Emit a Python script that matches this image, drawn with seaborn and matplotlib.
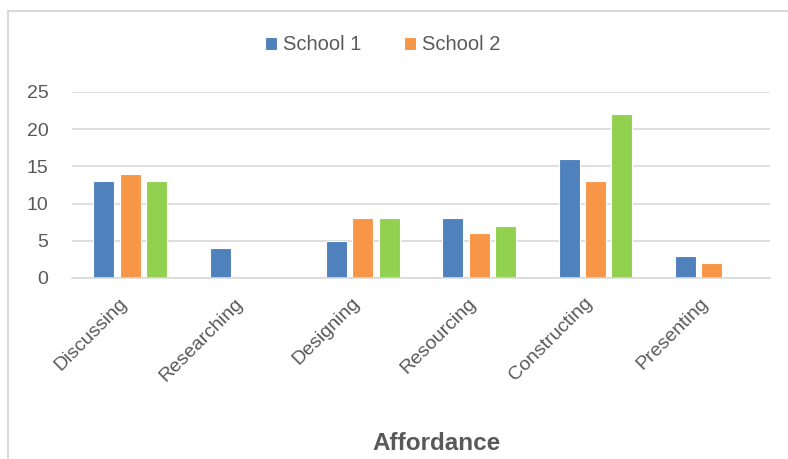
import pandas as pd
import matplotlib.pyplot as plt
import matplotlib.patches as mpatches
import seaborn as sns

# data
affordances = ["Discussing", "Researching", "Designing", "Resourcing", "Constructing", "Presenting"]
school1 = [13, 4, 5, 8, 16, 3]
school2 = [14, 0, 8, 6, 13, 2]
school3 = [13, 0, 8, 7, 22, 0]
schools = ["School 1", "School 2", "School 3"]
colors = ["#4F81BD", "#F79646", "#92D050"]

df = pd.DataFrame({
    "Affordance": affordances * 3,
    "School": [s for s in schools for _ in affordances],
    "Count": school1 + school2 + school3,
})

sns.set_style("white")
plt.rcParams["font.family"] = ["Liberation Sans", "DejaVu Sans"]

fig = plt.figure(figsize=(7.88, 4.59), dpi=100)
ax = fig.add_axes([72 / 788, 1 - 278 / 459, 698 / 788, 186 / 459])

sns.barplot(data=df, x="Affordance", y="Count", hue="School", hue_order=schools,
            palette=colors, order=affordances, width=0.68, gap=0.2, saturation=1,
            edgecolor="white", linewidth=0.8, ax=ax)

ax.set_ylim(0, 25)
ax.set_yticks([0, 5, 10, 15, 20, 25])
ax.yaxis.grid(True, color="#D9D9D9", linewidth=1.2)
ax.set_axisbelow(True)
for s in ["top", "right", "left"]:
    ax.spines[s].set_visible(False)
ax.spines["bottom"].set_color("#D9D9D9")
ax.spines["bottom"].set_linewidth(1.2)
ax.tick_params(axis="both", length=0, labelsize=14, labelcolor="#595959")
ax.tick_params(axis="y", pad=17)
ax.tick_params(axis="x", pad=12)
plt.setp(ax.get_xticklabels(), rotation=45, ha="right")
ax.set_xlabel("")
ax.set_ylabel("")

handles, labels = ax.get_legend_handles_labels()
ax.legend(handles[:2], labels[:2], loc="center", bbox_to_anchor=(383 / 788, 1 - 45 / 459),
          bbox_transform=fig.transFigure, ncol=2, frameon=False, fontsize=14.5,
          handlelength=0.6, handleheight=0.6, handletextpad=0.3, columnspacing=2.1,
          labelcolor="#595959")

fig.text(437 / 788, 1 - 443 / 459, "Affordance", ha="center", va="center",
         fontsize=17.5, fontweight="bold", color="#595959")

# chart area border
fig.patches.append(mpatches.Rectangle((8 / 788, -0.1), 1.0, (459 - 11) / 459 + 0.1,
                                      transform=fig.transFigure, fill=False,
                                      edgecolor="#D9D9D9", linewidth=1.5))

fig.savefig("out.png", dpi=100)
